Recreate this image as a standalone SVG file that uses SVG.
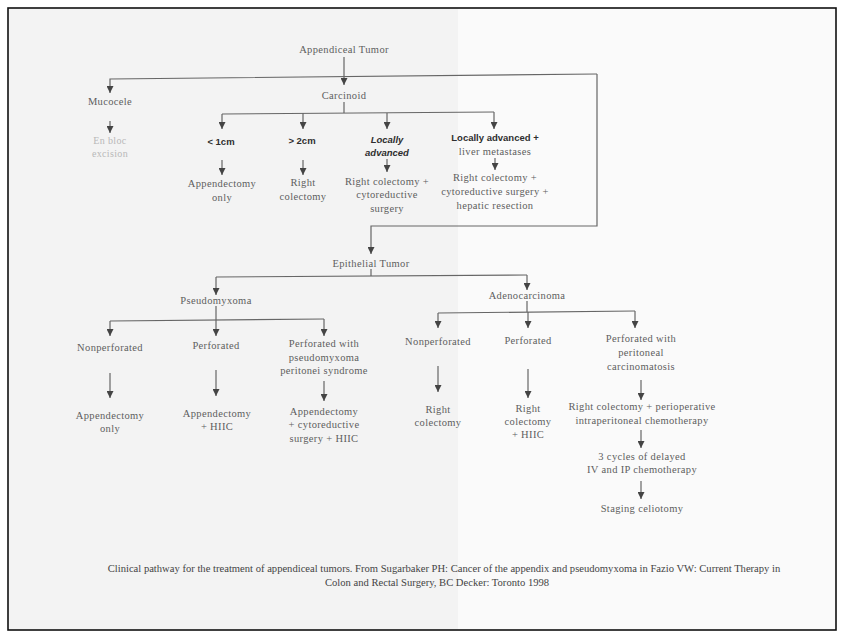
<svg xmlns="http://www.w3.org/2000/svg" width="843" height="633" viewBox="0 0 843 633">
<style>
  .t { font-family: "Liberation Serif", "Times New Roman", serif; font-size: 10.5px; letter-spacing: 0.35px; fill: #5e5e5e; text-anchor: middle; }
  .b { font-family: "Liberation Sans", Arial, sans-serif; font-size: 9.5px; font-weight: bold; fill: #2e2e2e; text-anchor: middle; }
  .bi { font-family: "Liberation Sans", Arial, sans-serif; font-size: 9.5px; font-weight: bold; font-style: italic; fill: #2e2e2e; text-anchor: middle; }
  .faint { font-family: "Liberation Serif", "Times New Roman", serif; font-size: 10px; letter-spacing: 0.35px; fill: #b8b8b8; text-anchor: middle; }
  .cap { font-family: "Liberation Serif", "Times New Roman", serif; font-size: 10.6px; fill: #444; text-anchor: middle; }
  .c { fill: none; stroke: #666; stroke-width: 1.2; }
  .a { fill: none; stroke: #666; stroke-width: 1.2; marker-end: url(#ah); }
</style>
<defs>
  <marker id="ah" viewBox="0 0 10 10" refX="10" refY="5" markerWidth="7" markerHeight="7" markerUnits="userSpaceOnUse" orient="auto">
    <path d="M0,0 L10,5 L0,10 z" fill="#444"/>
  </marker>
</defs>
<rect x="0" y="0" width="843" height="633" fill="#ffffff"/>
<rect x="8" y="8" width="450" height="622" fill="#f3f3f3"/>
<rect x="458" y="8" width="378" height="622" fill="#fafafa"/>
<rect x="8" y="8" width="828" height="622" fill="none" stroke="#111" stroke-width="1.6"/>

<g id="connectors">
  <path class="a" d="M344,57 V85"/>
  <path class="a" d="M597,74 L110,79 V93"/>
  <path class="a" d="M597,74 V226 H371 V254"/>
  <path class="a" d="M110,121 V133"/>
  <path class="c" d="M344,102 V113"/>
  <path class="c" d="M222,114 L494,112"/>
  <path class="a" d="M222,114 V129"/>
  <path class="a" d="M303,113 V129"/>
  <path class="a" d="M387,113 V129"/>
  <path class="a" d="M494,112 V129"/>
  <path class="a" d="M222,160 V175"/>
  <path class="a" d="M303,160 V175"/>
  <path class="a" d="M387,159 V172"/>
  <path class="a" d="M495,158 V170"/>
  <path class="c" d="M371,269 V276"/>
  <path class="c" d="M216,277 L527,275"/>
  <path class="a" d="M216,277 V295"/>
  <path class="a" d="M527,275 V290"/>
  <path class="c" d="M216,306 V320"/>
  <path class="c" d="M110,321 L324,319"/>
  <path class="a" d="M110,321 V336"/>
  <path class="a" d="M216,320 V336"/>
  <path class="a" d="M324,319 V336"/>
  <path class="c" d="M527,301 V312"/>
  <path class="c" d="M438,313 L635,311"/>
  <path class="a" d="M438,313 V328"/>
  <path class="a" d="M528,312 V328"/>
  <path class="a" d="M635,311 V328"/>
  <path class="a" d="M110,373 V398"/>
  <path class="a" d="M216,370 V396"/>
  <path class="a" d="M324,381 V401"/>
  <path class="a" d="M438,366 V392"/>
  <path class="a" d="M528,369 V398"/>
  <path class="a" d="M641,380 V400"/>
  <path class="a" d="M641,430 V448"/>
  <path class="a" d="M641,481 V499"/>
</g>

<g id="appendiceal-tumor"><text class="t" x="344" y="53">Appendiceal Tumor</text></g>
<g id="mucocele"><text class="t" x="110" y="105">Mucocele</text></g>
<g id="en-bloc-excision"><text class="faint" x="110" y="144">En bloc</text><text class="faint" x="110" y="157">excision</text></g>
<g id="carcinoid"><text class="t" x="344" y="99">Carcinoid</text></g>
<g id="lt-1cm"><text class="b" x="221" y="145">&lt; 1cm</text></g>
<g id="gt-2cm"><text class="b" x="302" y="144">&gt; 2cm</text></g>
<g id="locally-advanced"><text class="bi" x="387" y="143">Locally</text><text class="bi" x="387" y="156">advanced</text></g>
<g id="locally-advanced-liver"><text class="b" x="495" y="141">Locally advanced +</text><text class="t" x="495" y="155">liver metastases</text></g>
<g id="c-appendectomy-only"><text class="t" x="222" y="187">Appendectomy</text><text class="t" x="222" y="201">only</text></g>
<g id="c-right-colectomy"><text class="t" x="303" y="186">Right</text><text class="t" x="303" y="200">colectomy</text></g>
<g id="c-right-colectomy-cyto"><text class="t" x="387" y="185">Right colectomy +</text><text class="t" x="387" y="198">cytoreductive</text><text class="t" x="387" y="212">surgery</text></g>
<g id="c-right-colectomy-hepatic"><text class="t" x="495" y="181">Right colectomy +</text><text class="t" x="495" y="195">cytoreductive surgery +</text><text class="t" x="495" y="209">hepatic resection</text></g>
<g id="epithelial-tumor"><text class="t" x="371" y="267">Epithelial Tumor</text></g>
<g id="pseudomyxoma"><text class="t" x="216" y="304">Pseudomyxoma</text></g>
<g id="adenocarcinoma"><text class="t" x="527" y="299">Adenocarcinoma</text></g>
<g id="p-nonperforated"><text class="t" x="110" y="351">Nonperforated</text></g>
<g id="p-perforated"><text class="t" x="216" y="349">Perforated</text></g>
<g id="p-perforated-pms"><text class="t" x="324" y="347">Perforated with</text><text class="t" x="324" y="361">pseudomyxoma</text><text class="t" x="324" y="374">peritonei syndrome</text></g>
<g id="a-nonperforated"><text class="t" x="438" y="345">Nonperforated</text></g>
<g id="a-perforated"><text class="t" x="528" y="344">Perforated</text></g>
<g id="a-perforated-pc"><text class="t" x="641" y="342">Perforated with</text><text class="t" x="641" y="356">peritoneal</text><text class="t" x="641" y="370">carcinomatosis</text></g>
<g id="p-appendectomy-only"><text class="t" x="110" y="419">Appendectomy</text><text class="t" x="110" y="432">only</text></g>
<g id="p-appendectomy-hiic"><text class="t" x="217" y="417">Appendectomy</text><text class="t" x="217" y="430">+ HIIC</text></g>
<g id="p-appendectomy-cyto-hiic"><text class="t" x="324" y="415">Appendectomy</text><text class="t" x="324" y="428">+ cytoreductive</text><text class="t" x="324" y="442">surgery + HIIC</text></g>
<g id="a-right-colectomy"><text class="t" x="438" y="413">Right</text><text class="t" x="438" y="426">colectomy</text></g>
<g id="a-right-colectomy-hiic"><text class="t" x="528" y="412">Right</text><text class="t" x="528" y="425">colectomy</text><text class="t" x="528" y="438">+ HIIC</text></g>
<g id="a-right-colectomy-periop"><text class="t" x="642" y="410">Right colectomy + perioperative</text><text class="t" x="642" y="424">intraperitoneal chemotherapy</text></g>
<g id="a-cycles"><text class="t" x="642" y="460">3 cycles of delayed</text><text class="t" x="642" y="473">IV and IP chemotherapy</text></g>
<g id="a-staging"><text class="t" x="642" y="512">Staging celiotomy</text></g>

<g id="caption">
  <text class="cap" x="444" y="572">Clinical pathway for the treatment of appendiceal tumors. From Sugarbaker PH: Cancer of the appendix and pseudomyxoma in Fazio VW: Current Therapy in</text>
  <text class="cap" x="437" y="586">Colon and Rectal Surgery, BC Decker: Toronto 1998</text>
</g>
</svg>
